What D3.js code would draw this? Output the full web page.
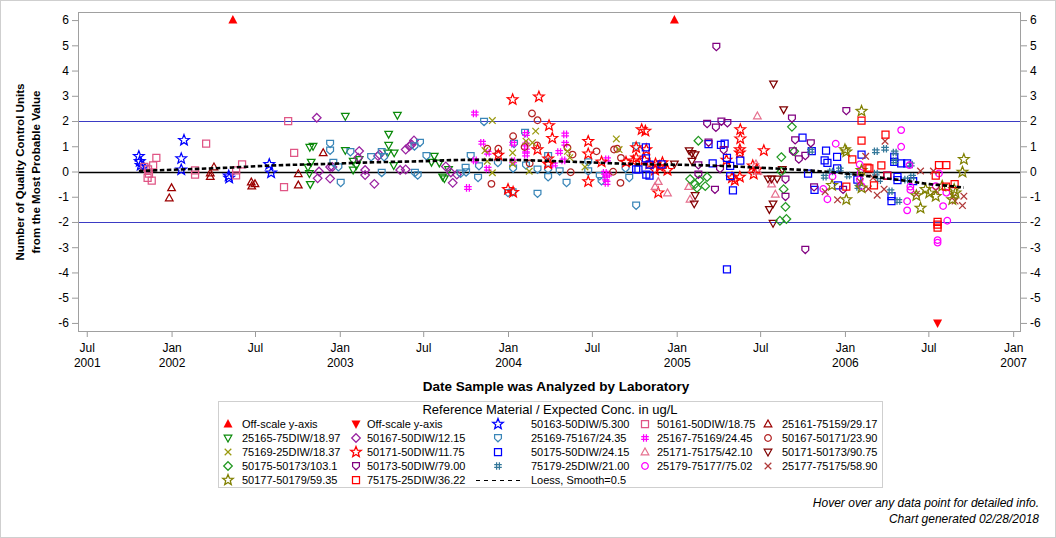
<!DOCTYPE html>
<html><head><meta charset="utf-8">
<script src="https://cdn.jsdelivr.net/npm/d3@7"></script>
<style>body{margin:0;background:#fff;} svg{display:block;font-family:Arial,"Liberation Sans",sans-serif;}</style>
</head><body><svg id="chart" width="1056" height="538"></svg>
<script>
// ---------------- DATA ----------------
const yTicks = [-6,-5,-4,-3,-2,-1,0,1,2,3,4,5,6];
const xTickDates = ["2001-07-01","2002-01-01","2002-07-01","2003-01-01","2003-07-01","2004-01-01","2004-07-01","2005-01-01","2005-07-01","2006-01-01","2006-07-01","2007-01-01"];
const xTickMonths = ["Jul","Jan","Jul","Jan","Jul","Jan","Jul","Jan","Jul","Jan","Jul","Jan"];
const xTickYears = ["2001","2002","","2003","","2004","","2005","","2006","","2007"];

const offScaleUp = [["2002-05-14",6],["2004-12-27",6]];
const offScaleDown = [["2006-07-21",-6]];
const s50163_50DIW = [["2001-10-22",0.60],["2001-10-24",0.40],["2001-10-26",0.25],["2001-11-01",0.18],["2002-01-22",0.51],["2002-01-22",0.07],["2002-01-28",1.24],["2002-05-05",-0.17],["2002-05-06",-0.26],["2002-08-01",0.28],["2002-08-05",-0.05]];
const s50161_50DIW = [["2001-11-03",0.18],["2001-11-11",0.08],["2001-11-13",-0.08],["2001-11-10",-0.25],["2001-11-19",-0.36],["2001-11-22",0.24],["2001-11-29",0.54],["2002-02-21",0.04],["2002-02-21",-0.12],["2002-03-17",1.10],["2002-05-21",0.04],["2002-05-21",-0.15],["2002-06-03",0.28],["2002-09-02",-0.62],["2002-09-11",2.0],["2002-09-24",0.74]];
const s25161_75159 = [["2001-12-27",-1.05],["2002-01-01",-0.65],["2002-03-26",-0.06],["2002-03-26",-0.20],["2002-04-03",0.18],["2002-06-23",-0.42],["2002-06-24",-0.58],["2002-07-01",-0.49],["2002-10-03",-0.09],["2002-10-03",-0.54],["2002-11-26",0.74]];
const s25165_75DIW = [["2002-10-24",0.17],["2002-10-27",-0.08],["2002-10-28",0.96],["2002-10-29",-0.51],["2002-10-31",0.37],["2002-11-04",1.0],["2003-01-13",2.19],["2003-01-13",0.84],["2003-01-30",0.41],["2003-01-30",0.06],["2003-02-06",0.24],["2003-02-12",0.48],["2003-04-15",0.74],["2003-04-17",1.48],["2003-04-17",1.04],["2003-04-28",0.24],["2003-04-29",0.74],["2003-05-06",2.23],["2003-07-19",0.37],["2003-07-25",0.61],["2003-08-05",0.34],["2003-08-12",-0.21],["2003-08-16",-0.28],["2003-08-25",0.08]];
const s50167_50DIW = [["2002-11-12",2.13],["2002-11-17",0.0],["2002-11-14",-0.27],["2002-12-11",0.18],["2002-12-16",0.18],["2002-12-11",-0.28],["2003-02-10",0.55],["2003-02-12",0.81],["2003-02-25",0.06],["2003-02-25",-0.14],["2003-03-17",-0.49],["2003-03-25",0.61],["2003-03-28",0.67],["2003-05-12",0.06],["2003-05-24",0.08],["2003-05-24",0.87],["2003-06-01",1.0],["2003-06-06",1.07],["2003-06-11",1.23],["2003-08-19",0.2],["2003-08-30",-0.04],["2003-09-03",-0.45],["2003-09-12",-0.12]];
const s25169_75167 = [["2002-12-11",1.1],["2002-12-11",0.83],["2002-12-18",0.35],["2002-12-29",0.17],["2003-01-03",-0.45],["2003-01-24",0.77],["2003-03-10",0.57],["2003-04-02",0.77],["2003-04-07",0.57],["2003-04-02",-0.05],["2003-06-12",1.0],["2003-06-13",-0.05],["2003-06-19",-0.15],["2003-06-24",1.14],["2003-07-08",0.61],["2003-09-20",-0.08],["2003-10-01",0.15],["2003-10-02",-0.03],["2003-10-12",0.61],["2003-10-28",-0.25],["2003-10-30",0.21],["2003-11-10",1.97],["2003-12-10",0.34],["2004-01-01",-0.85],["2004-01-11",-0.82],["2004-01-12",0.12],["2004-01-14",1.1],["2004-02-07",1.53],["2004-02-09",0.24],["2004-03-05",0.08],["2004-03-05",-0.88],["2004-03-28",0.61],["2004-03-28",0.08],["2004-03-28",-0.22],["2004-04-22",0.01],["2004-05-07",-0.45],["2004-06-23",0.37],["2004-06-23",0.01],["2004-07-18",-0.18],["2004-07-22",-0.38],["2004-09-12",0.12],["2004-09-20",-0.25],["2004-10-05",1.0],["2004-10-05",-1.35]];
const s25167_75169 = [["2003-10-06",-0.65],["2003-10-21",2.3],["2003-10-21",0.44],["2003-11-06",1.14],["2003-11-18",0.74],["2003-11-18",0.11],["2004-01-12",1.1],["2004-01-12",0.41],["2004-02-09",1.49],["2004-02-09",1.07],["2004-02-09",0.83],["2004-02-09",0.67],["2004-04-10",0.28],["2004-04-21",0.77],["2004-04-30",0.44],["2004-05-04",1.47],["2004-05-04",1.1],["2004-07-29",-0.05],["2004-07-31",-0.28],["2004-08-02",-0.45],["2004-08-03",0.48],["2004-08-05",-0.12]];
const s50167_50171 = [["2003-11-17",0.9],["2003-11-26",-0.49],["2003-12-11",0.9],["2003-12-11",0.7],["2004-01-12",1.4],["2004-02-06",0.97],["2004-02-17",0.32],["2004-02-22",2.3],["2004-03-05",2.03],["2004-03-04",1.03],["2004-05-09",0.94],["2004-05-16",-0.03],["2004-05-20",0.67],["2004-07-11",0.8],["2004-08-16",-0.01],["2004-08-18",0.87],["2004-08-25",0.9],["2004-09-01",-0.45],["2004-09-02",0.54]];
const s75169_25DIW = [["2003-11-12",0.83],["2003-11-17",0.41],["2003-11-28",2.02],["2003-11-28",-0.05],["2004-01-11",0.74],["2004-01-11",0.3],["2004-02-09",1.2],["2004-02-16",0.01],["2004-02-23",1.14],["2004-03-01",1.6],["2004-05-09",0.8],["2004-05-14",0.55],["2004-06-16",0.18],["2004-08-23",1.29],["2004-08-29",0.87]];
const s50171_50DIW = [["2003-12-11",0.65],["2004-01-01",-0.71],["2004-01-11",2.85],["2004-01-12",-0.82],["2004-03-05",0.87],["2004-03-08",2.96],["2004-03-28",0.5],["2004-03-28",0.3],["2004-03-30",1.82],["2004-04-06",1.32],["2004-06-23",1.2],["2004-06-23",0.7],["2004-06-23",-0.4],["2004-07-22",0.38],["2004-09-13",0.37],["2004-09-29",0.42],["2004-10-05",0.54],["2004-10-05",0.95],["2004-10-17",1.66],["2004-10-25",1.6],["2004-10-27",0.87],["2004-10-23",0.45],["2004-11-03",0.3],["2004-11-15",0.06],["2004-11-16",0.3],["2004-11-22",-0.84],["2004-11-25",0.2],["2004-12-01",0.35],["2004-12-12",0.05],["2005-04-19",0.45],["2005-05-01",-0.25],["2005-05-07",-0.35],["2005-05-18",-0.22],["2005-05-19",1.66],["2005-05-19",1.3],["2005-05-18",0.87],["2005-05-18",0.74],["2005-06-15",0.23],["2005-06-17",-0.1],["2005-06-24",0.08],["2005-07-09",0.83]];
const s50175_50DIW = [["2004-10-05",0.08],["2004-10-10",0.08],["2004-10-26",0.96],["2004-10-26",0.52],["2004-10-27",-0.12],["2004-11-03",-0.16],["2004-11-03",0.27],["2004-11-29",0.28],["2005-03-11",1.08],["2005-03-20",0.32],["2005-04-07",1.06],["2005-04-15",1.1],["2005-04-20",0.54],["2005-04-20",-3.88],["2005-04-27",0.22],["2005-04-27",-0.18],["2005-05-03",-0.75],["2005-05-19",0.43],["2005-10-01",1.34],["2005-10-13",-0.08],["2005-10-21",0.81],["2005-10-27",-0.73],["2005-11-18",0.44],["2005-11-21",0.83],["2005-11-24",0.34],["2005-12-15",0.58],["2005-12-15",0.12],["2005-12-17",-0.55],["2006-01-28",-0.32],["2006-02-06",0.67],["2006-04-03",-0.16],["2006-04-12",-0.98],["2006-04-12",-1.17],["2006-04-18",0.58],["2006-04-18",0.38],["2006-04-25",-0.21],["2006-04-25",-0.34],["2006-05-03",0.32],["2006-05-16",0.32],["2006-05-29",-0.38]];
const s25171_75175 = [["2004-11-15",-0.6],["2004-11-22",-0.4],["2004-12-12",-0.85],["2005-01-27",-0.6],["2005-01-30",-1.1],["2005-06-22",0.3],["2005-06-25",2.2],["2005-06-26",0.01],["2005-07-26",-0.5],["2005-08-03",-0.9]];
const s50171_50173 = [["2004-12-27",0.3],["2005-01-28",0.83],["2005-02-03",0.72],["2005-02-03",0.41],["2005-02-10",0.67],["2005-02-10",-0.95],["2005-02-08",-1.28],["2005-07-18",-0.29],["2005-07-21",-1.5],["2005-07-26",-0.29],["2005-07-29",-1.28],["2005-07-29",-2.05],["2005-07-30",3.47],["2005-08-07",-0.29],["2005-08-18",0.08],["2005-08-21",2.45]];
const s50175_50173 = [["2005-01-30",-0.3],["2005-02-10",-0.5],["2005-02-14",-0.65],["2005-02-17",1.22],["2005-02-19",-0.34],["2005-03-04",-0.58],["2005-03-08",-0.22],["2005-08-13",-1.95],["2005-08-16",0.57],["2005-08-16",0.0],["2005-08-21",-0.7],["2005-08-25",-1.4],["2005-08-27",-1.88],["2005-09-08",1.77],["2005-09-13",0.8]];
const s50173_50DIW = [["2005-02-17",0.25],["2005-02-17",-0.12],["2005-03-08",1.89],["2005-03-11",1.15],["2005-03-25",-0.72],["2005-03-27",1.74],["2005-03-28",4.94],["2005-04-05",0.1],["2005-04-08",1.98],["2005-04-13",0.85],["2005-04-21",1.92],["2005-08-25",-0.32],["2005-08-25",-1.0],["2005-09-08",2.1],["2005-09-10",0.8],["2005-09-15",1.24],["2005-09-23",0.48],["2005-10-07",0.62],["2005-10-07",-3.1],["2005-10-19",1.12],["2005-10-26",-0.62],["2005-12-28",-0.72],["2006-01-04",2.4]];
const s75179_25DIW = [["2005-10-19",0.82],["2005-11-18",-0.21],["2005-12-02",0.0],["2005-12-21",0.08],["2006-01-08",-0.16],["2006-01-30",-0.61],["2006-03-09",0.8],["2006-03-09",-0.08],["2006-03-16",-0.34],["2006-03-29",0.9],["2006-04-10",-0.78],["2006-04-19",0.75],["2006-04-19",0.41],["2006-04-27",-1.17],["2006-05-14",-0.32],["2006-05-24",0.28],["2006-05-27",-0.21]];
const s25179_75177 = [["2005-11-15",-0.69],["2005-11-24",-1.1],["2005-12-05",-0.2],["2005-12-12",1.1],["2006-02-02",0.28],["2006-02-02",-0.32],["2006-02-04",-0.05],["2006-02-06",-0.58],["2006-05-03",1.64],["2006-05-03",0.98],["2006-05-16",-1.18],["2006-05-16",-1.54],["2006-05-21",0.25],["2006-05-23",-0.6],["2006-05-23",-0.73],["2006-07-17",-0.58],["2006-07-21",-2.72],["2006-07-21",-2.82],["2006-07-24",-0.08],["2006-08-02",-1.37],["2006-08-09",-0.84],["2006-08-11",-1.95]];
const s25177_75175 = [["2005-11-19",-0.8],["2005-12-16",-1.12],["2006-02-03",-0.4],["2006-02-15",0.6],["2006-02-21",-0.69],["2006-03-03",-0.25],["2006-03-12",-0.94],["2006-03-27",-0.7],["2006-03-29",1.2],["2006-06-05",-0.9],["2006-06-14",0.02],["2006-07-12",0.02],["2006-07-17",-0.75],["2006-08-24",-1.0],["2006-08-28",-1.17],["2006-09-13",-1.35],["2006-09-16",-0.98]];
const s50177_50179 = [["2005-12-04",-0.55],["2006-01-01",0.87],["2006-01-04",0.78],["2006-01-04",-1.11],["2006-02-06",2.39],["2006-02-06",0.05],["2006-02-06",-0.65],["2006-06-05",-0.95],["2006-06-14",-1.45],["2006-06-25",-0.71],["2006-07-03",-0.85],["2006-07-17",-0.98],["2006-07-31",-0.58],["2006-08-22",-1.11],["2006-08-26",-0.71],["2006-08-29",-0.84],["2006-09-13",-0.02],["2006-09-16",0.48]];
const s75175_25DIW = [["2006-01-04",-0.6],["2006-01-17",0.48],["2006-02-06",2.02],["2006-02-06",1.22],["2006-02-19",0.15],["2006-02-23",0.12],["2006-03-05",-0.55],["2006-03-21",0.24],["2006-03-30",1.46],["2006-04-03",-0.16],["2006-07-17",-0.16],["2006-07-21",-2.0],["2006-07-21",-2.1],["2006-07-21",-2.22],["2006-07-24",0.25],["2006-08-08",-0.6],["2006-08-09",0.25],["2006-08-27",-0.5]];
const loessDates = ["2001-10-22","2002-01-04","2002-05-14","2002-07-28","2002-12-18","2003-02-14","2003-07-01","2003-10-04","2003-12-29","2004-03-24","2004-06-26","2004-10-12","2005-01-29","2005-04-11","2005-06-30","2005-09-04","2005-11-14","2006-01-03","2006-03-22","2006-05-14","2006-07-03","2006-08-30","2006-09-16"];
const loessValues = [0.02,0.07,0.16,0.23,0.31,0.35,0.41,0.46,0.46,0.42,0.36,0.29,0.26,0.22,0.15,0.09,0.0,-0.08,-0.25,-0.37,-0.5,-0.6,-0.64];

const legendLabels = ["Off-scale y-axis","Off-scale y-axis","50163-50DIW/5.300","50161-50DIW/18.75","25161-75159/29.17",
 "25165-75DIW/18.97","50167-50DIW/12.15","25169-75167/24.35","25167-75169/24.45","50167-50171/23.90",
 "75169-25DIW/18.37","50171-50DIW/11.75","50175-50DIW/24.15","25171-75175/42.10","50171-50173/90.75",
 "50175-50173/103.1","50173-50DIW/79.00","75179-25DIW/21.00","25179-75177/75.02","25177-75175/58.90",
 "50177-50179/59.35","75175-25DIW/36.22","Loess, Smooth=0.5"];
const seriesData = [offScaleUp,offScaleDown,s50163_50DIW,s50161_50DIW,s25161_75159,s25165_75DIW,s50167_50DIW,s25169_75167,s25167_75169,s50167_50171,s75169_25DIW,s50171_50DIW,s50175_50DIW,s25171_75175,s50171_50173,s50175_50173,s50173_50DIW,s75179_25DIW,s25179_75177,s25177_75175,s50177_50179,s75175_25DIW];

// ---------------- STYLE ----------------
const seriesStyle = [
 {shape:"offup",color:"#ff0000"},{shape:"offdown",color:"#ff0000"},{shape:"star",color:"#0000ff"},{shape:"square",color:"#e05585"},{shape:"triup",color:"#9b0000"},
 {shape:"tridown",color:"#0a8a0a"},{shape:"diamond",color:"#9922a0"},{shape:"plate",color:"#3a86b8"},{shape:"hash",color:"#ff00ff"},{shape:"circle",color:"#b22222"},
 {shape:"x",color:"#9a9a10"},{shape:"star",color:"#ff0000"},{shape:"square",color:"#0000ff"},{shape:"triup",color:"#e6718f"},{shape:"tridown",color:"#800000"},
 {shape:"diamond",color:"#229922"},{shape:"plate",color:"#800080"},{shape:"hash",color:"#337799"},{shape:"circle",color:"#ff00ff"},{shape:"x",color:"#b03a3a"},
 {shape:"star",color:"#808000"},{shape:"square",color:"#ff0000"}];

function starPath(R,r){let p=[];for(let i=0;i<10;i++){const a=-Math.PI/2+i*Math.PI/5;const rr=i%2?r:R;p.push([rr*Math.cos(a),rr*Math.sin(a)]);}return "M"+p.map(q=>q[0].toFixed(2)+","+q[1].toFixed(2)).join("L")+"Z";}
const shapes = {
 offup:"M0,-5L4.5,3.5L-4.5,3.5Z",
 offdown:"M0,5L4.5,-3.5L-4.5,-3.5Z",
 triup:"M0,-4L3.8,2.8L-3.8,2.8Z",
 tridown:"M0,4L3.8,-2.8L-3.8,-2.8Z",
 square:"M-3.5,-3.5H3.5V3.5H-3.5Z",
 diamond:"M0,-4.3L4.3,0L0,4.3L-4.3,0Z",
 circle:"M3.3,0A3.3,3.3 0 1,1 -3.3,0A3.3,3.3 0 1,1 3.3,0Z",
 x:"M-3.3,-3.3L3.3,3.3M-3.3,3.3L3.3,-3.3",
 hash:"M-1.4,-3.8V3.8M1.4,-3.8V3.8M-3.8,-1.4H3.8M-3.8,1.4H3.8",
 plate:"M-3.4,-3.4H3.4V0.6L0,3.8L-3.4,0.6Z",
 star:starPath(5.6,2.4)
};

// ---------------- CHART ----------------
const svg = d3.select("#chart");
const parse = d3.timeParse("%Y-%m-%d");
const L=78,R=1021,T=12,B=331;
const x = d3.scaleTime().domain([new Date(2001,5,12), new Date(2007,0,18)]).range([L,R]);
const y = d3.scaleLinear().domain([-6.32,6.32]).range([B,T]);

svg.append("rect").attr("x",0.5).attr("y",0.5).attr("width",1055).attr("height",537).attr("fill","#fff").attr("stroke","#cfcfcf");

// reference lines
[[2,"#3b3bc4"],[-2,"#3b3bc4"],[0,"#000"]].forEach(([v,c])=>{
 svg.append("line").attr("x1",L).attr("x2",R).attr("y1",Math.round(y(v))+0.5).attr("y2",Math.round(y(v))+0.5).attr("stroke",c).attr("stroke-width",v===0?1.3:1);
});

// axes
const fmt = d=>String(d);
const gl = svg.append("g").attr("transform",`translate(${L},0)`).call(d3.axisLeft(y).tickValues(yTicks).tickSize(6).tickPadding(3).tickFormat(fmt));
const gr = svg.append("g").attr("transform",`translate(${R},0)`).call(d3.axisRight(y).tickValues(yTicks).tickSize(6).tickPadding(3).tickFormat(fmt));
const gx = svg.append("g").attr("transform",`translate(0,${B})`).call(d3.axisBottom(x).tickValues(xTickDates.map(parse)).tickSize(6).tickFormat(""));
[gl,gr,gx].forEach(g=>{g.select(".domain").remove();g.selectAll(".tick line").attr("stroke","#9a9a9a");g.selectAll("text").attr("fill","#000").style("font-size","12px").style("font-family","Arial, 'Liberation Sans', sans-serif");});
gx.selectAll(".tick text").remove();
gx.selectAll(".tick").each(function(d,i){
 const t=d3.select(this).append("text").attr("text-anchor","middle").attr("fill","#000").style("font-size","12px");
 t.append("tspan").attr("x",0).attr("y",21).text(xTickMonths[i]);
 if(xTickYears[i]) t.append("tspan").attr("x",0).attr("y",36).text(xTickYears[i]);
});
svg.append("rect").attr("x",L+0.5).attr("y",T+0.5).attr("width",R-L-1).attr("height",B-T).attr("fill","none").attr("stroke","#a0a0a0");

// points
seriesData.forEach((data,i)=>{
 const st=seriesStyle[i];
 const filled = st.shape==="offup"||st.shape==="offdown";
 svg.append("g").selectAll("path").data(data).join("path")
  .attr("d",shapes[st.shape])
  .attr("transform",d=>`translate(${x(parse(d[0])).toFixed(2)},${y(d[1]).toFixed(2)})`)
  .attr("fill",filled?st.color:"none").attr("stroke",st.color).attr("stroke-width",filled?0:1.25);
});

// loess
const loess = loessDates.map((d,i)=>[parse(d),loessValues[i]]);
svg.append("path").datum(loess).attr("d",d3.line().x(d=>x(d[0])).y(d=>y(d[1])).curve(d3.curveMonotoneX))
 .attr("fill","none").attr("stroke","#000").attr("stroke-width",2.6).attr("stroke-dasharray","4.5,2.5");

// axis titles
svg.append("text").attr("x",556).attr("y",391).attr("text-anchor","middle").style("font-size","13.5px").style("font-weight","bold").text("Date Sample was Analyzed by Laboratory");
svg.append("text").attr("transform","translate(24,172) rotate(-90)").attr("text-anchor","middle").style("font-size","11.6px").style("font-weight","bold").text("Number of Quality Control Units");
svg.append("text").attr("transform","translate(39.5,172) rotate(-90)").attr("text-anchor","middle").style("font-size","11.6px").style("font-weight","bold").text("from the Most Probable Value");

// legend
svg.append("rect").attr("x",218.5).attr("y",401.5).attr("width",664).attr("height",86).attr("fill","none").attr("stroke","#cfcfcf");
svg.append("text").attr("x",550).attr("y",414).attr("text-anchor","middle").style("font-size","13px").text("Reference Material / Expected Conc. in ug/L");
const colSym=[228,356,498,645,768], colTxt=[242,367,531,657,782];
legendLabels.forEach((lab,i)=>{
 const c=i%5, r=Math.floor(i/5), cy=424+r*14;
 if(i<seriesStyle.length){
  const st=seriesStyle[i]; const filled=st.shape==="offup"||st.shape==="offdown";
  svg.append("path").attr("d",shapes[st.shape]).attr("transform",`translate(${colSym[c]},${cy})`)
   .attr("fill",filled?st.color:"none").attr("stroke",st.color).attr("stroke-width",filled?0:1.25);
 } else {
  svg.append("line").attr("x1",476).attr("x2",520).attr("y1",cy+0.5).attr("y2",cy+0.5).attr("stroke","#000").attr("stroke-width",1).attr("stroke-dasharray","4,4");
 }
 svg.append("text").attr("x",colTxt[c]).attr("y",cy+4).style("font-size","11px").text(lab);
});

// footer
svg.append("text").attr("x",1039).attr("y",507).attr("text-anchor","end").style("font-size","12px").style("font-style","italic").text("Hover over any data point for detailed info.");
svg.append("text").attr("x",1039).attr("y",523).attr("text-anchor","end").style("font-size","12px").style("font-style","italic").text("Chart generated 02/28/2018");
</script></body></html>
